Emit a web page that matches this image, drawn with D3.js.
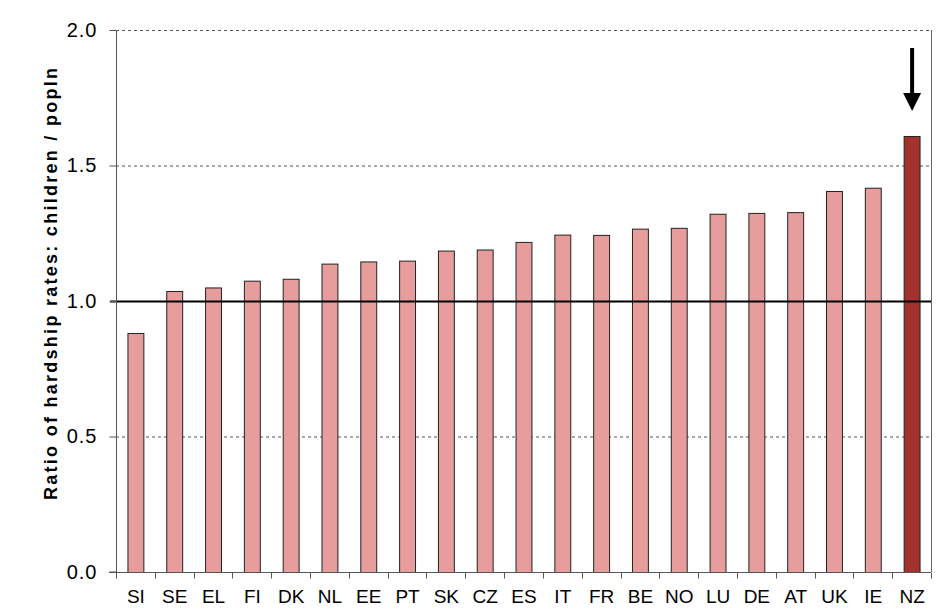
<!DOCTYPE html>
<html><head><meta charset="utf-8">
<script src="https://cdn.jsdelivr.net/npm/d3@7"></script>
<style>body{margin:0;background:#fff;}svg{display:block;}</style>
</head><body><svg id="c" width="949" height="616"></svg>
<script>
const categories = ["SI","SE","EL","FI","DK","NL","EE","PT","SK","CZ","ES","IT","FR","BE","NO","LU","DE","AT","UK","IE","NZ"];
const values = [0.882,1.037,1.050,1.075,1.082,1.138,1.146,1.149,1.186,1.190,1.218,1.245,1.244,1.267,1.270,1.322,1.325,1.328,1.406,1.418,1.609];
const yTicks = [0.0,0.5,1.0,1.5,2.0];
const highlight = "NZ";

const svg = d3.select("#c");
const FONT = "Arial, 'Liberation Sans', sans-serif";
const m = {left:116, right:931, top:30, bottom:572};
const x = d3.scaleBand().domain(categories).range([m.left, m.right]).paddingInner(0.59).paddingOuter(0.295);
const xb = d3.scaleBand().domain(categories).range([m.left, m.right]);
const y = d3.scaleLinear().domain([0,2]).range([m.bottom, m.top]);

// gridlines
svg.append("g").selectAll("line").data(yTicks.filter(d=>d!==0 && d!==1))
  .join("line").attr("x1",m.left).attr("x2",m.right)
  .attr("y1",d=>y(d)+0.5).attr("y2",d=>y(d)+0.5)
  .attr("stroke","#555").attr("stroke-width",1).attr("stroke-dasharray","3,3");
// right border
svg.append("line").attr("x1",m.right+0.5).attr("x2",m.right+0.5).attr("y1",m.top).attr("y2",m.bottom)
  .attr("stroke","#666").attr("stroke-width",1);

// bars
svg.append("g").selectAll("rect").data(categories)
  .join("rect")
  .attr("x",d=>x(d)+0.5).attr("width",x.bandwidth())
  .attr("y",(d,i)=>y(values[i])+0.5).attr("height",(d,i)=>y(0)-y(values[i]))
  .attr("fill",d=>d===highlight?"#A3322F":"#E89D9D")
  .attr("stroke","#222").attr("stroke-width",1);

// reference line at 1.0
svg.append("line").attr("x1",m.left-6).attr("x2",m.right).attr("y1",y(1)+0.5).attr("y2",y(1)+0.5)
  .attr("stroke","#000").attr("stroke-width",2);

// y axis
const ya = d3.axisLeft(y).tickValues(yTicks).tickFormat(d3.format(".1f")).tickSize(7).tickPadding(12);
const gy = svg.append("g").attr("transform",`translate(${m.left+0.5},0)`).call(ya);
gy.select(".domain").attr("stroke","#555").attr("d",`M-7,${m.bottom}H0V${m.top}`);
gy.selectAll(".tick line").attr("stroke","#555");
gy.selectAll("text").attr("font-family",FONT).attr("font-size",20).attr("letter-spacing","1px").attr("fill","#000");

// x axis
const gx = svg.append("g").attr("transform",`translate(0,${m.bottom+0.5})`);
gx.append("line").attr("x1",m.left-7).attr("x2",m.right).attr("y1",0).attr("y2",0).attr("stroke","#555");
gx.selectAll("line.t").data(categories.concat(["_end"])).join("line").attr("class","t")
  .attr("x1",(d,i)=>Math.round(m.left + i*xb.bandwidth())+0.5).attr("x2",(d,i)=>Math.round(m.left + i*xb.bandwidth())+0.5)
  .attr("y1",0).attr("y2",6).attr("stroke","#555");
gx.selectAll("text").data(categories).join("text")
  .attr("x",d=>x(d)+x.bandwidth()/2+0.5).attr("y",30.5)
  .attr("text-anchor","middle").attr("font-family",FONT).attr("font-size",19).attr("fill","#000")
  .text(d=>d);

// y label
svg.append("text").attr("transform",`translate(57,284) rotate(-90)`)
  .attr("text-anchor","middle").attr("font-family",FONT)
  .attr("font-size",18).attr("font-weight","bold").attr("fill","#000")
  .attr("textLength",432).attr("lengthAdjust","spacing")
  .text("Ratio of hardship rates: children / popln");

// arrow above highlight
const ax = x(highlight)+x.bandwidth()/2+0.5;
svg.append("line").attr("x1",ax).attr("x2",ax).attr("y1",48).attr("y2",95).attr("stroke","#000").attr("stroke-width",4);
svg.append("path").attr("d",`M${ax-9},93L${ax+9},93L${ax},111Z`).attr("fill","#000");
</script></body></html>
